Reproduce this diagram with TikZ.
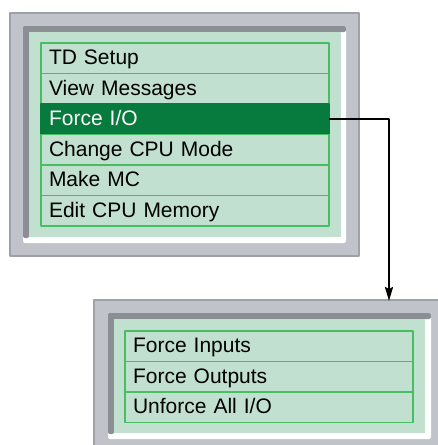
\documentclass[tikz,border=0pt]{standalone}
\usepackage{fontspec}
\setmainfont{Liberation Sans}
\usetikzlibrary{positioning,arrows.meta}
\definecolor{panelgray}{RGB}{192,195,202}
\definecolor{paneledge}{RGB}{158,161,167}
\definecolor{bevelgray}{RGB}{139,142,147}
\definecolor{screengreen}{RGB}{193,224,207}
\definecolor{rowline}{RGB}{72,190,100}
\definecolor{rowsel}{RGB}{7,122,61}
\tikzset{
    menurow/.style={
        draw=rowline, line width=1.3pt, outer sep=0pt,
        minimum height=30.5pt, inner ysep=0pt, inner xsep=8pt,
        text width=272pt, align=left,
        text height=14.5pt, text depth=1.5pt,
        font=\fontsize{21}{24}\selectfont
    },
    selrow/.style={
        menurow, fill=rowsel, draw=rowsel, text=white
    },
    conn/.style={
        line width=2.2pt, -{Stealth[length=14pt,width=8pt,inset=2pt]}
    }
}

\begin{document}
\begin{tikzpicture}[x=1pt,y=-1pt,line join=round]

% page frame
    \clip (0,0) rectangle (438,445);

% --- top panel ---
    \filldraw[fill=panelgray, draw=paneledge, line width=1.5pt] (10,13) rectangle (359,256);
    \fill[white, rounded corners=2pt] (23,26) rectangle (346,243);
    \fill[bevelgray, rounded corners=2pt] (23,26) rectangle (346,32);
    \fill[bevelgray, rounded corners=2pt] (23,26) rectangle (29,238);
    \fill[screengreen] (29,32) rectangle (341,237);

% main menu
    \node[menurow, anchor=north west] (td) at (41,43) {TD Setup};
    \node[menurow, below=0pt of td] (msg) {View Messages};
    \node[selrow, below=0pt of msg] (force) {Force I/O};
    \node[menurow, below=0pt of force] (cpu) {Change CPU Mode};
    \node[menurow, below=0pt of cpu] (mc) {Make MC};
    \node[menurow, below=0pt of mc] (mem) {Edit CPU Memory};

% --- bottom panel ---
    \filldraw[fill=panelgray, draw=paneledge, line width=1.5pt] (94,300) rectangle (443,452);
    \fill[white, rounded corners=2pt] (108,313) rectangle (431,439);
    \fill[bevelgray, rounded corners=2pt] (108,313) rectangle (431,319);
    \fill[bevelgray, rounded corners=2pt] (108,313) rectangle (114,434);
    \fill[screengreen] (114,319) rectangle (425,433);

% sub menu
    \begin{scope}[every node/.append style={inner xsep=14pt, text width=260pt}]
      \node[menurow, anchor=north west] (fin) at (125,331) {Force Inputs};
      \node[menurow, below=0pt of fin] (fout) {Force Outputs};
      \node[menurow, below=0pt of fout] (unf) {Unforce All I/O};
    \end{scope}

% connector
    \coordinate (drop) at (389,301);
    \draw[conn] (force.east) -| (drop);

\end{tikzpicture}
\end{document}
